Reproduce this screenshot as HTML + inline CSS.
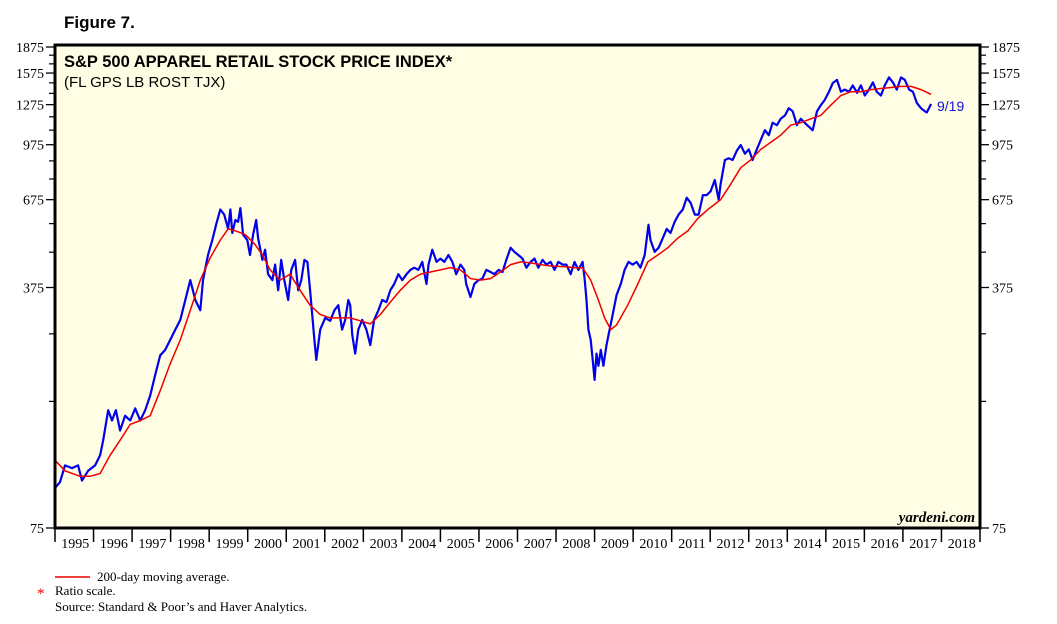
<!DOCTYPE html>
<html><head><meta charset="utf-8">
<style>
body{margin:0;background:#fff;width:1057px;height:624px;overflow:hidden;font-family:"Liberation Sans",sans-serif;}
svg{display:block}
</style></head>
<body>
<svg width="1057" height="624" xmlns="http://www.w3.org/2000/svg">
<text x="64" y="28" font-size="17" font-weight="bold" font-family="Liberation Sans">Figure 7.</text>
<rect x="55" y="45" width="925" height="483" fill="#fffde4" stroke="none"/>
<g id="marks"></g>
<rect x="55" y="45" width="925" height="483" fill="none" stroke="#000" stroke-width="3"/>
<text x="64" y="67" font-size="16.5" font-weight="bold">S&amp;P 500 APPAREL RETAIL STOCK PRICE INDEX*</text>
<text x="64" y="87" font-size="15">(FL GPS LB ROST TJX)</text>
<text x="975" y="522" font-size="15" font-style="italic" font-weight="bold" text-anchor="end" font-family="Liberation Serif">yardeni.com</text>
<text x="937" y="111" font-size="14" fill="#1010e0">9/19</text>
<g id="axes" font-family="Liberation Serif"></g>
<line x1="55" y1="577" x2="90" y2="577" stroke="#e00" stroke-width="1.5"/>
<text x="97" y="581" font-size="13" font-family="Liberation Serif">200-day moving average.</text>
<text x="37" y="598" font-size="15" fill="#e00" font-family="Liberation Serif">*</text>
<text x="55" y="595" font-size="13" font-family="Liberation Serif">Ratio scale.</text>
<text x="55" y="611" font-size="13" font-family="Liberation Serif">Source: Standard &amp; Poor’s and Haver Analytics.</text>
</svg>
<script>
const yTicks=[75,375,675,975,1275,1575,1875];
const years=[1995,1996,1997,1998,1999,2000,2001,2002,2003,2004,2005,2006,2007,2008,2009,2010,2011,2012,2013,2014,2015,2016,2017,2018];
const priceT=[0,.13,.26,.44,.6,.7,.86,1.04,1.17,1.25,1.38,1.48,1.58,1.69,1.82,1.95,2.08,2.21,2.34,2.47,2.6,2.73,2.86,2.99,3.12,3.25,3.38,3.51,3.64,3.77,3.84,3.97,4.08,4.18,4.29,4.39,4.49,4.55,4.6,4.68,4.75,4.81,4.88,4.99,5.06,5.14,5.22,5.27,5.38,5.45,5.53,5.64,5.71,5.79,5.87,5.95,6.05,6.13,6.23,6.31,6.39,6.47,6.55,6.62,6.73,6.78,6.88,7.01,7.14,7.25,7.35,7.45,7.53,7.61,7.66,7.71,7.79,7.87,7.97,8.08,8.18,8.28,8.39,8.49,8.6,8.7,8.8,8.91,9.01,9.12,9.22,9.32,9.43,9.53,9.64,9.69,9.79,9.9,10,10.1,10.21,10.31,10.41,10.52,10.62,10.67,10.78,10.88,10.99,11.09,11.19,11.3,11.4,11.51,11.61,11.71,11.82,11.92,12.02,12.13,12.23,12.34,12.44,12.54,12.65,12.75,12.86,12.96,13.06,13.17,13.27,13.38,13.48,13.58,13.69,13.74,13.79,13.84,13.9,13.95,14,14.05,14.1,14.16,14.23,14.31,14.39,14.47,14.57,14.68,14.78,14.88,14.99,15.09,15.19,15.3,15.4,15.45,15.56,15.66,15.77,15.87,15.97,16.08,16.18,16.29,16.39,16.49,16.6,16.7,16.81,16.91,17.01,17.12,17.22,17.27,17.38,17.48,17.58,17.69,17.79,17.9,18,18.1,18.21,18.31,18.42,18.52,18.62,18.73,18.83,18.94,19.04,19.14,19.25,19.35,19.45,19.56,19.66,19.77,19.87,19.97,20.08,20.18,20.29,20.39,20.49,20.6,20.7,20.81,20.91,21.01,21.12,21.22,21.32,21.43,21.53,21.64,21.74,21.84,21.95,22.05,22.16,22.26,22.36,22.47,22.57,22.62,22.73];
const priceV=[98,102,114,112,114,103,110,114,122,135,165,154,165,144,159,154,167,154,165,182,209,238,247,264,283,302,345,394,345,322,394,466,515,571,632,611,555,632,540,589,582,638,534,515,466,534,589,522,451,483,410,394,437,368,451,394,345,422,451,368,394,451,445,368,264,231,283,306,300,322,333,283,302,345,333,274,241,283,302,283,255,302,322,345,340,368,384,410,394,410,422,428,422,445,384,437,483,445,455,445,466,445,410,437,422,384,352,384,394,398,422,416,410,422,416,451,489,476,466,455,428,445,455,428,451,437,445,422,445,437,437,410,445,422,445,398,345,283,264,231,202,241,222,247,222,255,283,313,357,384,422,445,437,445,428,466,571,515,476,489,522,555,540,582,611,632,684,661,611,611,696,696,714,770,675,748,880,890,880,936,973,918,945,880,945,1006,1075,1039,1130,1111,1160,1186,1245,1219,1111,1160,1130,1100,1074,1219,1270,1315,1388,1474,1504,1390,1410,1390,1450,1380,1450,1355,1410,1480,1390,1355,1450,1530,1480,1410,1530,1505,1410,1390,1290,1245,1219,1210,1280];
const maT=[0,.26,.65,.91,1.17,1.43,1.69,1.95,2.21,2.47,2.73,2.99,3.25,3.51,3.77,4.03,4.29,4.49,4.68,4.94,5.19,5.38,5.58,5.84,6.1,6.36,6.62,6.88,7.14,7.4,7.66,7.92,8.18,8.44,8.7,8.96,9.22,9.48,9.74,10,10.26,10.52,10.78,11.04,11.3,11.56,11.82,12.08,12.34,12.6,12.86,13.25,13.51,13.69,13.9,14.1,14.26,14.42,14.57,14.86,15.12,15.38,15.64,15.9,16.16,16.42,16.68,16.94,17.27,17.53,17.79,18.05,18.31,18.57,18.83,19.09,19.35,19.61,19.87,20.13,20.39,20.65,20.91,21.17,21.43,21.69,21.95,22.21,22.47,22.73];
const maV=[118,110,106,106,108,122,135,150,154,159,188,225,264,322,394,458,515,555,548,534,500,466,422,394,410,368,333,313,306,306,306,300,294,313,340,368,394,410,416,422,428,422,398,394,398,416,437,445,442,437,433,431,428,428,394,345,306,283,292,333,384,445,466,489,522,548,596,632,675,748,836,880,945,990,1039,1111,1130,1160,1186,1270,1355,1390,1390,1410,1420,1430,1440,1440,1410,1365];
const X0=55,X1=980,Y0=528,Y1=47;
const xs=t=>X0+(t/24)*(X1-X0);
const ys=v=>Y0-Math.log(v/75)/Math.log(1875/75)*(Y0-Y1);
const NS='http://www.w3.org/2000/svg';
const marks=document.getElementById('marks'),axes=document.getElementById('axes');
function mk(tag,attrs,parent){const e=document.createElementNS(NS,tag);for(const k in attrs)e.setAttribute(k,attrs[k]);parent.appendChild(e);return e;}
const blue=mk('path',{d:priceT.map((t,i)=>(i?'L':'M')+xs(t).toFixed(1)+','+ys(priceV[i]).toFixed(1)).join(''),fill:'none',stroke:'#0000ee','stroke-width':2.2,'stroke-linejoin':'round'},marks);


const red=mk('path',{d:maT.map((t,i)=>(i?'L':'M')+xs(t).toFixed(1)+','+ys(maV[i]).toFixed(1)).join(''),fill:'none',stroke:'#ee0000','stroke-width':1.5},marks);


for(let v=175;v<1875;v+=100){
  if(yTicks.includes(v))continue;
  const y=ys(v);
  const m1=mk('line',{x1:X0-6,x2:X0,y1:y,y2:y,stroke:'#000','stroke-width':1.2},axes);
  
  
  const m2=mk('line',{x1:X1,x2:X1+6,y1:y,y2:y,stroke:'#000','stroke-width':1.2},axes);
  
  
}
yTicks.forEach(v=>{
  const y=ys(v);
  const t1=mk('line',{x1:X0-9,x2:X0,y1:y,y2:y,stroke:'#000','stroke-width':1.3},axes);
  
  
  const t2=mk('line',{x1:X1,x2:X1+9,y1:y,y2:y,stroke:'#000','stroke-width':1.3},axes);
  
  
  const l=mk('text',{x:44,y:y+5,'font-size':14,'text-anchor':'end'},axes);l.textContent=v;
  
  
  const r=mk('text',{x:992,y:y+5,'font-size':14},axes);r.textContent=v;
  
  
});
years.forEach((yr,i)=>{
  const x=xs(i);
  const tk=mk('line',{x1:x,x2:x,y1:Y0,y2:Y0+14,stroke:'#000','stroke-width':1.5},axes);
  
  
  const l=mk('text',{x:xs(i+0.5)+1,y:Y0+20,'font-size':14,'text-anchor':'middle'},axes);l.textContent=yr;
  
  
});
const endTk=mk('line',{x1:X1,x2:X1,y1:Y0,y2:Y0+14,stroke:'#000','stroke-width':1.5},axes);


</script>
</body></html>
